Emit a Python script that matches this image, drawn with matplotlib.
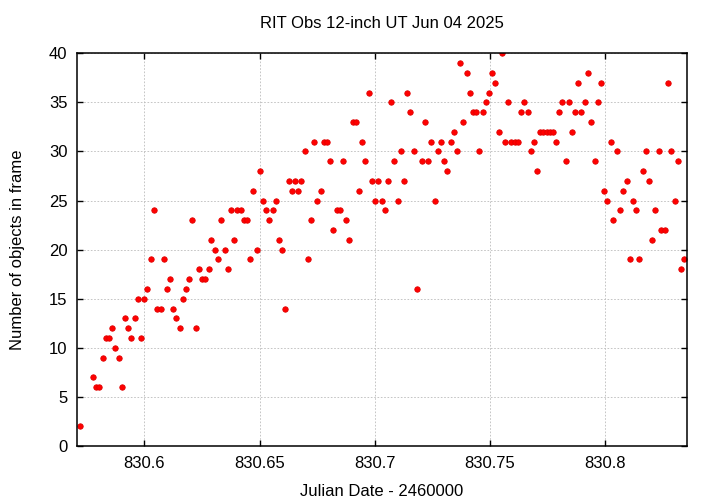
import matplotlib
matplotlib.use('Agg')
import matplotlib.pyplot as plt

plt.rcParams['font.family'] = ['Liberation Sans', 'DejaVu Sans']

# Julian Date - 2460000
jd = [830.5722, 830.5776, 830.5790, 830.5805, 830.5819, 830.5832, 830.5848, 830.5861,
      830.5874, 830.5889, 830.5903, 830.5916, 830.5931, 830.5944, 830.5958, 830.5973,
      830.5986, 830.6000, 830.6013, 830.6028, 830.6042, 830.6056, 830.6071, 830.6084,
      830.6099, 830.6112, 830.6126, 830.6139, 830.6154, 830.6168, 830.6181, 830.6195,
      830.6208, 830.6223, 830.6237, 830.6250, 830.6265, 830.6280, 830.6291, 830.6306,
      830.6320, 830.6334, 830.6349, 830.6362, 830.6376, 830.6391, 830.6404, 830.6418,
      830.6431, 830.6446, 830.6460, 830.6473, 830.6488, 830.6502, 830.6515, 830.6530,
      830.6543, 830.6557, 830.6571, 830.6585, 830.6599, 830.6612, 830.6627, 830.6641,
      830.6655, 830.6668, 830.6681, 830.6696, 830.6711, 830.6724, 830.6738, 830.6751,
      830.6766, 830.6779, 830.6793, 830.6807, 830.6820, 830.6835, 830.6849, 830.6862,
      830.6877, 830.6890, 830.6905, 830.6919, 830.6932, 830.6946, 830.6959, 830.6974,
      830.6988, 830.7003, 830.7016, 830.7030, 830.7043, 830.7058, 830.7071, 830.7085,
      830.7100, 830.7113, 830.7127, 830.7142, 830.7155, 830.7169, 830.7184, 830.7205,
      830.7220, 830.7233, 830.7246, 830.7260, 830.7275, 830.7288, 830.7302, 830.7315,
      830.7330, 830.7344, 830.7357, 830.7370, 830.7385, 830.7399, 830.7412, 830.7427,
      830.7441, 830.7455, 830.7469, 830.7482, 830.7496, 830.7510, 830.7523, 830.7538,
      830.7553, 830.7566, 830.7580, 830.7593, 830.7608, 830.7622, 830.7635, 830.7649,
      830.7664, 830.7677, 830.7691, 830.7704, 830.7719, 830.7732, 830.7747, 830.7761,
      830.7774, 830.7787, 830.7801, 830.7814, 830.7829, 830.7842, 830.7856, 830.7871,
      830.7884, 830.7898, 830.7913, 830.7926, 830.7940, 830.7955, 830.7968, 830.7981,
      830.7995, 830.8010, 830.8024, 830.8037, 830.8052, 830.8066, 830.8079, 830.8094,
      830.8107, 830.8121, 830.8135, 830.8148, 830.8163, 830.8176, 830.8191, 830.8204,
      830.8218, 830.8233, 830.8244, 830.8260, 830.8273, 830.8287, 830.8302, 830.8315,
      830.8329, 830.8344]

# number of objects in each frame
n_obj = [2, 7, 6, 6, 9, 11, 11, 12,
         10, 9, 6, 13, 12, 11, 13, 15,
         11, 15, 16, 19, 24, 14, 14, 19,
         16, 17, 14, 13, 12, 15, 16, 17,
         23, 12, 18, 17, 17, 18, 21, 20,
         19, 23, 20, 18, 24, 21, 24, 24,
         23, 23, 19, 26, 20, 28, 25, 24,
         23, 24, 25, 21, 20, 14, 27, 26,
         27, 26, 27, 30, 19, 23, 31, 25,
         26, 31, 31, 29, 22, 24, 24, 29,
         23, 21, 33, 33, 26, 31, 29, 36,
         27, 25, 27, 25, 24, 27, 35, 29,
         25, 30, 27, 36, 34, 30, 16, 29,
         33, 29, 31, 25, 30, 31, 29, 28,
         31, 32, 30, 39, 33, 38, 36, 34,
         34, 30, 34, 35, 36, 38, 37, 32,
         40, 31, 35, 31, 31, 31, 34, 35,
         34, 30, 31, 28, 32, 32, 32, 32,
         32, 31, 34, 35, 29, 35, 32, 34,
         37, 34, 35, 38, 33, 29, 35, 37,
         26, 25, 31, 23, 30, 24, 26, 27,
         19, 25, 24, 19, 28, 30, 27, 21,
         24, 30, 22, 22, 37, 30, 25, 29,
         18, 19]

x_ticks = [830.6, 830.65, 830.7, 830.75, 830.8]
x_tick_labels = ['830.6', '830.65', '830.7', '830.75', '830.8']
y_ticks = [0, 5, 10, 15, 20, 25, 30, 35, 40]

fig = plt.figure(figsize=(7.2, 5.04), dpi=100)
ax = fig.add_axes([0.1074, 0.1151, 0.8464, 0.7791])

ax.plot(jd, n_obj, 'o', color='#ff0000', markersize=3.9,
        markeredgecolor='#e00000', markeredgewidth=0.6)

ax.set_xlim(830.5709, 830.8355)
ax.set_ylim(0, 40)
ax.set_xticks(x_ticks)
ax.set_xticklabels(x_tick_labels)
ax.set_yticks(y_ticks)

ax.grid(True, color='#bcbcbc', linestyle=(0, (2, 2)), linewidth=0.6)
ax.tick_params(direction='in', length=4.5, width=1, top=True, right=True,
               labelsize=12, pad=7, colors='black')
for s in ax.spines.values():
    s.set_linewidth(1.1)

fig.text(0.53, 1 - 23 / 504, 'RIT Obs 12-inch UT Jun 04 2025',
         ha='center', va='center', fontsize=12)
fig.text(0.53, 1 - 491 / 504, 'Julian Date - 2460000',
         ha='center', va='center', fontsize=12)
fig.text(0.025, 0.504, 'Number of objects in frame', rotation=90,
         ha='center', va='center', fontsize=12)

plt.savefig('out.png', dpi=100)
